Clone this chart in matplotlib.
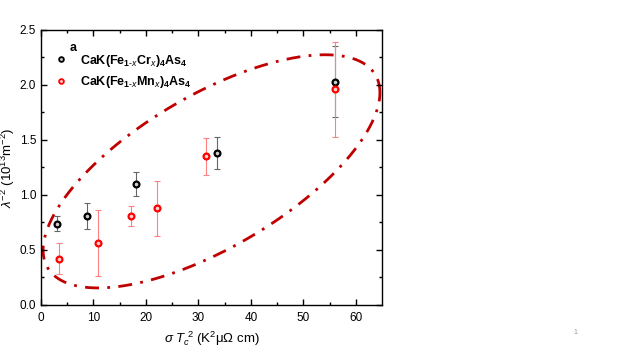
import numpy as np
import matplotlib
matplotlib.use('Agg')
import matplotlib.pyplot as plt
from matplotlib.lines import Line2D

plt.rcParams['font.family'] = ['Liberation Sans', 'DejaVu Sans']
plt.rcParams['mathtext.fontset'] = 'custom'
plt.rcParams['mathtext.rm'] = 'Liberation Sans'
plt.rcParams['mathtext.it'] = 'Liberation Sans:italic'
plt.rcParams['mathtext.bf'] = 'Liberation Sans:bold'

# Cr doped
cr_x = [3.1, 8.8, 18.2, 33.6, 56.1]
cr_y = [0.74, 0.81, 1.10, 1.38, 2.03]
cr_err = [0.07, 0.12, 0.11, 0.145, 0.32]

# Mn doped
mn_x = [3.5, 10.9, 17.1, 22.2, 31.4, 56.1]
mn_y = [0.42, 0.56, 0.81, 0.88, 1.35, 1.96]
mn_err = [0.14, 0.30, 0.09, 0.25, 0.17, 0.43]

fig = plt.figure(figsize=(6.23, 3.5), dpi=100)
fig.set_facecolor('white')
ax = fig.add_axes([0.0658, 0.1286, 0.5474, 0.7857])

ax.errorbar(cr_x, cr_y, yerr=cr_err, fmt='none', ecolor='#666666', elinewidth=0.8,
            capsize=2.3, capthick=0.8, zorder=2)
ax.errorbar(mn_x, mn_y, yerr=mn_err, fmt='none', ecolor='#ff8080', elinewidth=0.8,
            capsize=2.3, capthick=0.8, zorder=2)
ax.plot(cr_x, cr_y, 'o', ms=4.2, mfc='#cccccc', mec='black', mew=1.6, ls='none', zorder=3)
ax.plot(mn_x, mn_y, 'o', ms=4.2, mfc='#ffd0d0', mec='#ff0000', mew=1.6, ls='none', zorder=3)

# dash-dot ellipse around the data
t = np.linspace(0, 2 * np.pi, 400)
ex = 32.5 + 32.1 * np.cos(t)
ey = 1.215 + 1.06 * np.cos(t - 0.83)
ax.plot(ex, ey, color='#c00000', lw=2, ls=(0, (5, 3, 1, 3)), clip_on=False, zorder=1)

ax.set_xlim(0, 65)
ax.set_ylim(0, 2.5)
ax.set_xticks([0, 10, 20, 30, 40, 50, 60])
ax.set_xticks(np.arange(5, 65, 10), minor=True)
ax.set_yticks([0, 0.5, 1.0, 1.5, 2.0, 2.5])
ax.set_yticks(np.arange(0.25, 2.5, 0.5), minor=True)
ax.yaxis.set_major_formatter(matplotlib.ticker.FormatStrFormatter('%.1f'))
ax.tick_params(which='both', direction='in', top=True, right=True, labelsize=8.5)
ax.tick_params(axis='x', pad=5)
ax.tick_params(which='major', length=4, width=1)
ax.tick_params(which='minor', length=2.5, width=1)
for s in ax.spines.values():
    s.set_linewidth(1)

ax.set_xlabel(r'$\sigma\ T_c^{\ 2}$ (K$^2$μΩ cm)', fontsize=9.5, labelpad=4)
ax.set_ylabel(r'$\lambda^{-2}$ (10$^{13}$m$^{-2}$)', fontsize=9.5, labelpad=2)

handles = [
    Line2D([], [], marker='o', ms=3.4, mfc='#cccccc', mec='black', mew=1.3, ls='none'),
    Line2D([], [], marker='o', ms=3.4, mfc='#ffd0d0', mec='#ff0000', mew=1.3, ls='none'),
]
labels = [r'CaK(Fe$_{\mathbf{1}\text{-}x}$Cr$_x$)$_\mathbf{4}$As$_\mathbf{4}$',
          r'CaK(Fe$_{\mathbf{1}\text{-}x}$Mn$_x$)$_\mathbf{4}$As$_\mathbf{4}$']
ax.legend(handles, labels, loc='upper left', bbox_to_anchor=(0.025, 0.935), frameon=False,
          prop={'weight': 'bold', 'size': 9}, handletextpad=1.0, handlelength=1.0,
          labelspacing=0.45, borderaxespad=0)
ax.text(0.085, 0.955, 'a', transform=ax.transAxes, fontsize=9, fontweight='bold',
        va='top', ha='left')

fig.text(0.92, 0.045, '1', fontsize=5, color='#999999')

fig.savefig('out.png', dpi=100)
